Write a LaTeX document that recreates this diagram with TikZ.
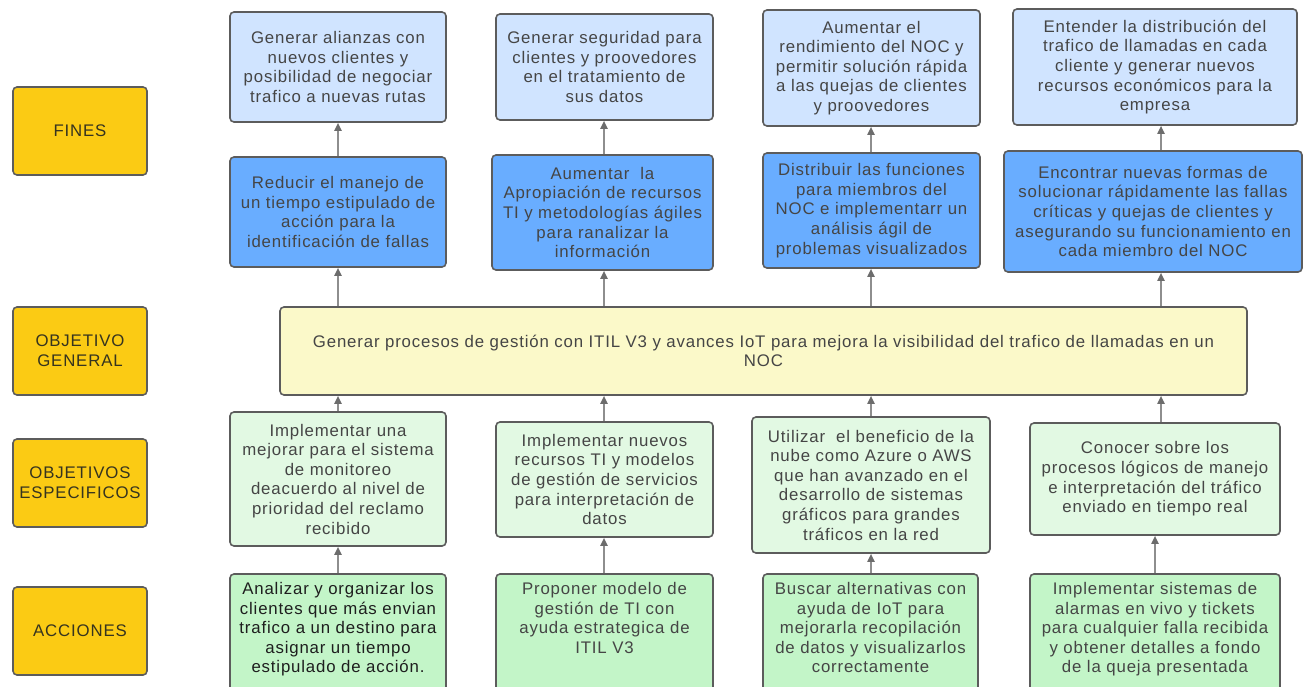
\documentclass[tikz,border=0pt]{standalone}
\usepackage{fontspec}
\setmainfont{Liberation Sans}[LetterSpace=5]
\usetikzlibrary{arrows.meta,calc}

\definecolor{edge}{HTML}{5C5C5C}
\definecolor{ink}{HTML}{454545}
\definecolor{inkdark}{HTML}{1E1E1E}
\definecolor{labelfill}{HTML}{FBCB14}
\definecolor{labelink}{HTML}{36341F}
\definecolor{finfill}{HTML}{D0E4FF}
\definecolor{midfill}{HTML}{69ADFF}
\definecolor{genfill}{HTML}{FBF9C9}
\definecolor{specfill}{HTML}{E2F9E3}
\definecolor{accfill}{HTML}{C3F5C8}
\definecolor{linkgray}{HTML}{8E8E8E}

\tikzset{
  box/.style={draw=edge, line width=1.6pt, rounded corners=4pt, inner sep=0pt,
    align=center, text=ink, font=\fontsize{16.8}{19.6}\selectfont},
  labelbox/.style={box, fill=labelfill, text=labelink},
  finbox/.style={box, fill=finfill},
  midbox/.style={box, fill=midfill},
  genbox/.style={box, fill=genfill},
  specbox/.style={box, fill=specfill},
  accbox/.style={box, fill=accfill},
  acctext/.style={anchor=north, inner sep=0pt, align=center, text=ink,
    font=\fontsize{16.8}{19.6}\selectfont},
  link/.style={draw=linkgray, line width=1.8pt,
    -{Triangle[length=8pt,width=7pt,color=edge!90]}}
}

% #1 name, #2-#5 corners (x1,y1,x2,y2) in pixels, #6 style, #7 text
\newcommand\boxpx[7]{%
  \node[#6, minimum width={(#4-#2)*1pt}, minimum height={(#5-#3)*1pt}]
    (#1) at ({(#2+#4)/2},{(#3+#5)/2}) {#7};}

\begin{document}
\begin{tikzpicture}[x=1pt,y=-1pt]
\useasboundingbox (0,0) rectangle (1304,687);

% row labels
\boxpx{labF}{13}{87}{147}{175}{labelbox}{FINES}
\boxpx{labG}{13}{307}{147}{395}{labelbox}{OBJETIVO\\GENERAL}
\boxpx{labE}{13}{439}{147}{527}{labelbox}{OBJETIVOS\\ESPECIFICOS}
\boxpx{labA}{13}{587}{147}{675}{labelbox}{ACCIONES}

% ends
\boxpx{f1}{230}{12}{446}{122}{finbox}{Generar alianzas con\\nuevos clientes y\\posibilidad de negociar\\trafico a nuevas rutas}
\boxpx{f2}{496}{14}{713}{120}{finbox}{Generar seguridad para\\clientes y proovedores\\en el tratamiento de\\sus datos}
\boxpx{f3}{763}{10}{980}{126}{finbox}{Aumentar el\\rendimiento del NOC y\\permitir solución rápida\\a las quejas de clientes\\y proovedores}
\boxpx{f4}{1013}{9}{1297}{125}{finbox}{Entender la distribución del\\trafico de llamadas en cada\\cliente y generar nuevos\\recursos económicos para la\\empresa}

% intermediate ends
\boxpx{m1}{230}{157}{446}{267}{midbox}{Reducir el manejo de\\un tiempo estipulado de\\acción para la\\identificación de fallas}
\boxpx{m2}{492}{155}{713}{270}{midbox}{Aumentar\ \ la\\Apropiación de recursos\\TI y metodologías ágiles\\para ranalizar la\\información}
\boxpx{m3}{763}{153}{980}{268}{midbox}{Distribuir las funciones\\para miembros del\\NOC e implementarr un\\análisis ágil de\\problemas visualizados}
\boxpx{m4}{1004}{151}{1302}{272}{midbox}{Encontrar nuevas formas de\\solucionar rápidamente las fallas\\críticas y quejas de clientes y\\asegurando su funcionamiento en\\cada miembro del NOC}

% general objective
\boxpx{gen}{280}{307}{1247}{395}{genbox}{Generar procesos de gestión con ITIL V3 y avances IoT para mejora la visibilidad del trafico de llamadas en un\\NOC}

% specific objectives
\boxpx{s1}{230}{412}{446}{546}{specbox}{Implementar una\\mejorar para el sistema\\de monitoreo\\deacuerdo al nivel de\\prioridad del reclamo\\recibido}
\boxpx{s2}{496}{422}{713}{537}{specbox}{Implementar nuevos\\recursos TI y modelos\\de gestión de servicios\\para interpretación de\\datos}
\boxpx{s3}{752}{417}{990}{553}{specbox}{Utilizar\ \ el beneficio de la\\nube como Azure o AWS\\que han avanzado en el\\desarrollo de sistemas\\gráficos para grandes\\tráficos en la red}
\boxpx{s4}{1030}{423}{1280}{535}{specbox}{Conocer sobre los\\procesos lógicos de manejo\\e interpretación del tráfico\\enviado en tiempo real}

% actions (boxes run past the lower edge)
\boxpx{a1}{230}{574}{446}{695}{accbox}{}
\boxpx{a2}{496}{574}{713}{695}{accbox}{}
\boxpx{a3}{763}{574}{978}{695}{accbox}{}
\boxpx{a4}{1030}{574}{1280}{695}{accbox}{}
\node[acctext, text=inkdark] (t1) at ($(a1.north)+(0,9)$) {Analizar y organizar los\\clientes que más envian\\trafico a un destino para\\asignar un tiempo\\estipulado de acción.};
\node[acctext] (t2) at ($(a2.north)+(0,9)$) {Proponer modelo de\\gestión de TI con\\ayuda estrategica de\\ITIL V3};
\node[acctext] (t3) at ($(a3.north)+(0,9)$) {Buscar alternativas con\\ayuda de IoT para\\mejorarla recopilación\\de datos y visualizarlos\\correctamente};
\node[acctext] (t4) at ($(a4.north)+(0,9)$) {Implementar sistemas de\\alarmas en vivo y tickets\\para cualquier falla recibida\\y obtener detalles a fondo\\de la queja presentada};

% column axes for the connectors
\coordinate (c1) at (338,0);
\coordinate (c2) at (604,0);
\coordinate (c3) at (871,0);
\coordinate (c4) at (1161,0);
\coordinate (c4low) at (1155,0);

% actions -> specific objectives
\draw[link] (c1 |- a1.north) -- (c1 |- s1.south);
\draw[link] (c2 |- a2.north) -- (c2 |- s2.south);
\draw[link] (c3 |- a3.north) -- (c3 |- s3.south);
\draw[link] (c4low |- a4.north) -- (c4low |- s4.south);

% specific objectives -> general objective
\draw[link] (c1 |- s1.north) -- (c1 |- gen.south);
\draw[link] (c2 |- s2.north) -- (c2 |- gen.south);
\draw[link] (c3 |- s3.north) -- (c3 |- gen.south);
\draw[link] (c4 |- s4.north) -- (c4 |- gen.south);

% general objective -> intermediate ends
\draw[link] (c1 |- gen.north) -- (c1 |- m1.south);
\draw[link] (c2 |- gen.north) -- (c2 |- m2.south);
\draw[link] (c3 |- gen.north) -- (c3 |- m3.south);
\draw[link] (c4 |- gen.north) -- (c4 |- m4.south);

% intermediate ends -> ends
\draw[link] (c1 |- m1.north) -- (c1 |- f1.south);
\draw[link] (c2 |- m2.north) -- (c2 |- f2.south);
\draw[link] (c3 |- m3.north) -- (c3 |- f3.south);
\draw[link] (c4 |- m4.north) -- (c4 |- f4.south);
\end{tikzpicture}
\end{document}
